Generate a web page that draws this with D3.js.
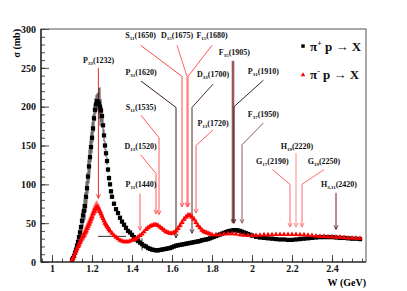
<!DOCTYPE html>
<html>
<head>
<meta charset="utf-8">
<script src="https://cdn.jsdelivr.net/npm/d3@7"></script>
<style>
  body { margin: 0; background: #fff; }
  svg text { font-family: "Liberation Serif", "DejaVu Serif", serif; font-weight: bold; }
</style>
</head>
<body>
<div id="chart"></div>
<script>
// pi+ p total cross section: [W (GeV), sigma (mb), error]
var piPlus = [
  [1.100, 3, 2], [1.105, 5, 2], [1.110, 8, 3], [1.115, 12, 4], [1.120, 16, 5], [1.125, 21, 6],
  [1.130, 26, 8], [1.135, 32, 10], [1.140, 38, 10], [1.145, 45, 12], [1.150, 53, 14], [1.155, 60, 15],
  [1.160, 66, 15], [1.165, 72, 18], [1.170, 84, 20], [1.175, 95, 20], [1.180, 110, 22], [1.185, 123, 22],
  [1.190, 135, 22], [1.195, 148, 20], [1.200, 160, 20], [1.205, 172, 18], [1.210, 185, 18], [1.215, 196, 15],
  [1.220, 203, 12], [1.225, 207, 10], [1.230, 206, 12], [1.235, 204, 20], [1.240, 200, 25], [1.245, 195, 15],
  [1.250, 188, 12], [1.255, 176, 10], [1.260, 163, 8], [1.265, 150, 6], [1.270, 140, 5], [1.275, 130, 5],
  [1.280, 119, 4], [1.285, 108, 4], [1.290, 100, 3], [1.295, 91, 3], [1.300, 84, 3], [1.310, 75, 3],
  [1.320, 68, 2], [1.330, 63, 2], [1.340, 57, 2], [1.350, 52, 2], [1.360, 48, 2], [1.370, 44, 2],
  [1.380, 40, 2], [1.390, 38, 2], [1.400, 35, 2], [1.410, 32, 2], [1.420, 29, 2], [1.430, 27, 2],
  [1.440, 25, 3], [1.450, 23, 8], [1.460, 21, 2], [1.470, 20, 2], [1.480, 18, 2], [1.490, 17, 2],
  [1.500, 16, 2], [1.510, 15.5, 2], [1.520, 15, 2], [1.530, 15, 2], [1.540, 15.5, 2], [1.550, 16, 2],
  [1.560, 16.5, 2], [1.570, 17, 2], [1.580, 17.5, 2], [1.590, 18, 2], [1.600, 19, 2], [1.610, 20, 2],
  [1.620, 21, 2], [1.630, 21.5, 2], [1.640, 22, 2], [1.650, 22.5, 2], [1.660, 23, 2], [1.670, 23.5, 2],
  [1.680, 24, 2], [1.690, 24.5, 2], [1.700, 25, 2], [1.710, 25.5, 2], [1.720, 26, 2], [1.730, 26.5, 2],
  [1.740, 27, 2], [1.750, 28, 2], [1.760, 28.5, 2], [1.770, 29, 2], [1.780, 29.5, 2], [1.790, 30.5, 2],
  [1.800, 31.5, 2], [1.810, 32.5, 2], [1.820, 33.5, 2], [1.830, 34.5, 2], [1.840, 35.5, 2], [1.850, 36.5, 2],
  [1.860, 37.5, 2], [1.870, 38.5, 2], [1.880, 39.5, 2], [1.890, 40, 2], [1.900, 40.5, 2], [1.910, 41, 2],
  [1.920, 41, 2], [1.930, 40.5, 2], [1.940, 40, 2], [1.950, 39, 2], [1.960, 38, 2], [1.970, 37, 2],
  [1.980, 36, 2], [1.990, 35, 2], [2.000, 34, 2], [2.020, 32.5, 2], [2.040, 31.5, 2], [2.060, 31, 2],
  [2.080, 30.5, 2], [2.100, 30, 2], [2.120, 29.5, 2], [2.140, 29, 2], [2.160, 29, 2], [2.180, 28.5, 2],
  [2.200, 28.5, 2], [2.220, 29, 2], [2.240, 29.5, 2], [2.260, 30, 2], [2.280, 30.5, 2], [2.300, 31, 2],
  [2.320, 31.5, 2], [2.340, 32, 2], [2.360, 32, 2], [2.380, 32, 2], [2.400, 32, 2], [2.420, 31.5, 2],
  [2.440, 31, 2], [2.460, 31, 2], [2.480, 30.5, 2], [2.500, 30, 2], [2.520, 30, 2], [2.540, 29.5, 2]
];

// pi- p total cross section: [W (GeV), sigma (mb), error]
var piMinus = [
  [1.100, 3, 1], [1.105, 5, 2], [1.110, 8, 3], [1.115, 11, 3], [1.120, 14, 4], [1.125, 17, 4],
  [1.130, 20, 5], [1.135, 22, 5], [1.140, 25, 6], [1.145, 28, 6], [1.150, 31, 6], [1.155, 33, 6],
  [1.160, 35, 7], [1.165, 38, 7], [1.170, 40, 8], [1.175, 43, 8], [1.180, 46, 8], [1.185, 49, 8],
  [1.190, 52, 8], [1.195, 55, 8], [1.200, 58, 8], [1.205, 62, 8], [1.210, 65, 8], [1.215, 68, 8],
  [1.220, 70, 8], [1.225, 71, 8], [1.230, 70, 6], [1.235, 68, 6], [1.240, 65, 6], [1.245, 62, 5],
  [1.250, 59, 5], [1.255, 56, 5], [1.260, 53, 4], [1.265, 50, 4], [1.270, 48, 4], [1.275, 46, 4],
  [1.280, 44, 3], [1.285, 42, 3], [1.290, 40, 3], [1.300, 37, 3], [1.310, 34, 2], [1.320, 32, 2],
  [1.330, 30, 2], [1.340, 28, 2], [1.350, 27, 2], [1.360, 26, 2], [1.370, 26, 2], [1.380, 26, 2],
  [1.390, 27, 2], [1.400, 28, 2], [1.410, 29, 2], [1.420, 30, 2], [1.430, 32, 2], [1.440, 34, 2],
  [1.450, 36, 2], [1.460, 39, 2], [1.470, 42, 2], [1.480, 44, 3], [1.490, 46, 3], [1.500, 47, 3],
  [1.510, 48, 3], [1.520, 48, 3], [1.530, 47, 3], [1.540, 45, 3], [1.550, 43, 3], [1.560, 41, 3],
  [1.570, 39, 3], [1.580, 38, 3], [1.590, 37, 3], [1.600, 37, 3], [1.610, 38, 3], [1.620, 40, 4],
  [1.630, 43, 4], [1.640, 47, 4], [1.650, 51, 4], [1.660, 55, 4], [1.670, 58, 4], [1.680, 60, 4],
  [1.690, 60, 4], [1.700, 58, 4], [1.710, 55, 4], [1.720, 51, 4], [1.730, 47, 3], [1.740, 44, 3],
  [1.750, 41, 3], [1.760, 39, 3], [1.770, 38, 3], [1.780, 37, 3], [1.790, 36, 2], [1.800, 35, 2],
  [1.820, 35, 2], [1.840, 35, 2], [1.860, 36, 2], [1.880, 36.5, 2], [1.900, 36.5, 2], [1.920, 36, 2],
  [1.940, 35, 2], [1.960, 34.5, 2], [1.980, 34, 2], [2.000, 34, 2], [2.020, 34, 2], [2.040, 34.5, 2],
  [2.060, 35, 2], [2.080, 35, 2], [2.100, 35, 2], [2.120, 35.5, 2], [2.140, 35.5, 2], [2.160, 35.5, 2],
  [2.180, 35.5, 2], [2.200, 35.5, 2], [2.220, 35.5, 2], [2.240, 35, 2], [2.260, 35, 2], [2.280, 34.5, 2],
  [2.300, 34, 2], [2.320, 33.5, 2], [2.340, 33, 2], [2.360, 33, 2], [2.380, 32.5, 2], [2.400, 32.5, 2],
  [2.420, 32, 2], [2.440, 32, 2], [2.460, 31.5, 2], [2.480, 31, 2], [2.500, 31, 2], [2.520, 30.5, 2],
  [2.540, 30.5, 2]
];

// one wide-bin point with a horizontal error: [W, sigma, xerr]
var wideBins = [[1.30, 33, 0.07]];

var xTicks = [1, 1.2, 1.4, 1.6, 1.8, 2, 2.2, 2.4];
var yTicks = [0, 50, 100, 150, 200, 250, 300];

// resonances: [letter, subscript, mass label, mass (GeV)]
var resonances = [
  ["P", "33", "1232", 1.232], ["P", "11", "1440", 1.440], ["D", "13", "1520", 1.520],
  ["S", "11", "1535", 1.535], ["P", "31", "1620", 1.620], ["S", "11", "1650", 1.650],
  ["D", "15", "1675", 1.675], ["F", "15", "1680", 1.680], ["D", "33", "1700", 1.700],
  ["P", "13", "1720", 1.720], ["F", "35", "1905", 1.905], ["P", "31", "1910", 1.910],
  ["F", "37", "1950", 1.950], ["G", "17", "2190", 2.190], ["H", "19", "2220", 2.220],
  ["G", "19", "2250", 2.250], ["H", "3,11", "2420", 2.420]
];

// annotation layout in data units: label centre W, label baseline sigma, line start sigma, knee sigma, tip sigma
var labelLayout = {
  "1232": [1.233, 256, 250, null, 82],
  "1440": [1.445, 96, 88, null, 41],
  "1520": [1.443, 145, 138, 114, 62],
  "1535": [1.445, 196, 189, 160, 61],
  "1620": [1.445, 241, 233, 199, 31],
  "1650": [1.443, 288, 279, 239, 71],
  "1675": [1.625, 288, 279, 239, 71],
  "1680": [1.800, 288, 279, 239, 71],
  "1700": [1.805, 238, 229, 199, 37],
  "1720": [1.805, 175, 170, 150, 63],
  "1905": [1.912, 266, 259, null, 50],
  "1910": [2.057, 242, 234, 200, 50],
  "1950": [2.057, 187, 179, 151, 50],
  "2190": [2.102, 126, 119, 100, 45],
  "2220": [2.225, 146, 140, null, 45],
  "2250": [2.360, 126, 119, 100, 45],
  "2420": [2.435, 97, 89, null, 42]
};
var lineColors = {
  "1232": "#e8302c", "1440": "#ff5a5a", "1520": "#ff5a5a", "1535": "#ff5a5a",
  "1620": "#3a2020", "1650": "#ff4a4a", "1675": "#ff6a6a", "1680": "#ff5050",
  "1700": "#4a2a2a", "1720": "#ff5a5a", "1905": "#9c5858", "1910": "#3a2424",
  "1950": "#8a5a5a", "2190": "#ff6a6a", "2220": "#ff8a8a", "2250": "#ff6a6a",
  "2420": "#6a2020"
};

var width = 407, height = 291;
var margin = {left: 41, top: 29, right: 41, bottom: 29};

var x = d3.scaleLinear().domain([0.945, 2.57]).range([margin.left, width - margin.right]);
var y = d3.scaleLinear().domain([0, 300]).range([height - margin.bottom, margin.top]);

var svg = d3.select("#chart").append("svg")
    .attr("width", width)
    .attr("height", height);

// clip for data
svg.append("clipPath").attr("id", "clip")
  .append("rect")
    .attr("x", margin.left).attr("y", margin.top)
    .attr("width", width - margin.left - margin.right)
    .attr("height", height - margin.top - margin.bottom);

// axes: ROOT style ticks pointing inside
var xAxis = d3.axisBottom(x).tickValues(xTicks).tickSize(-7).tickPadding(3)
    .tickFormat(function(d) { return d3.format("")(d); });
var xMinor = d3.axisBottom(x).tickValues(d3.range(0.95, 2.56, 0.05)).tickSize(-3.5).tickFormat("");
var yAxis = d3.axisLeft(y).tickValues(yTicks).tickSize(-8).tickPadding(5);
var yMinor = d3.axisLeft(y).tickValues(d3.range(0, 301, 10)).tickSize(-4).tickFormat("");

svg.append("g").attr("transform", "translate(0," + y(0) + ")").call(xMinor);
svg.append("g").attr("class", "xaxis").attr("transform", "translate(0," + y(0) + ")").call(xAxis);
svg.append("g").attr("transform", "translate(" + x.range()[0] + ",0)").call(yMinor);
svg.append("g").attr("class", "yaxis").attr("transform", "translate(" + x.range()[0] + ",0)").call(yAxis);

svg.selectAll(".domain").remove();
svg.selectAll(".tick line").attr("stroke", "#222").attr("stroke-width", 0.8);
svg.selectAll(".xaxis text, .yaxis text")
    .style("font-size", "10px").attr("fill", "#111");

// frame
svg.append("rect")
    .attr("x", x.range()[0]).attr("y", y.range()[1])
    .attr("width", x.range()[1] - x.range()[0])
    .attr("height", y.range()[0] - y.range()[1])
    .attr("fill", "none").attr("stroke", "#555").attr("stroke-width", 1);
svg.append("line")
    .attr("x1", x.range()[0]).attr("x2", x.range()[1])
    .attr("y1", y(0)).attr("y2", y(0))
    .attr("stroke", "#111").attr("stroke-width", 1.2);
svg.append("line")
    .attr("x1", x.range()[0]).attr("x2", x.range()[0])
    .attr("y1", y(0)).attr("y2", y(300))
    .attr("stroke", "#111").attr("stroke-width", 1.2);

// axis titles
svg.append("text")
    .attr("transform", "translate(20," + y(300) + ") rotate(-90)")
    .attr("text-anchor", "end")
    .style("font-size", "10px")
    .text("σ (mb)");
svg.append("text")
    .attr("x", x.range()[1]).attr("y", 286)
    .attr("text-anchor", "end")
    .style("font-size", "10px")
    .text("W (GeV)");

// annotation lines
var ann = svg.append("g");
resonances.forEach(function(r) {
  var lay = labelLayout[r[2]];
  var col = lineColors[r[2]];
  var mx = x(r[3]);
  var pts = [[x(lay[0]), y(lay[2])]];
  if (lay[3] !== null) pts.push([mx, y(lay[3])]);
  else pts[0][0] = mx;
  pts.push([mx, y(lay[4])]);
  ann.append("path")
      .attr("d", d3.line()(pts))
      .attr("fill", "none")
      .attr("stroke", col)
      .attr("stroke-width", r[2] == "1905" ? 2.6 : 1);
  var tipY = y(lay[4]);
  ann.append("path")
      .attr("d", d3.line()([[mx - 2, tipY - 4], [mx, tipY], [mx + 2, tipY - 4]]))
      .attr("fill", "none")
      .attr("stroke", col)
      .attr("stroke-width", 0.9);
});

// data: error bars then markers
var data = svg.append("g").attr("clip-path", "url(#clip)");

function drawSeries(rows, color, shape) {
  data.append("g").selectAll("line").data(rows).join("line")
      .attr("x1", function(d) { return x(d[0]); })
      .attr("x2", function(d) { return x(d[0]); })
      .attr("y1", function(d) { return y(d[1] - d[2]); })
      .attr("y2", function(d) { return y(d[1] + d[2]); })
      .attr("stroke", color).attr("stroke-width", 0.7);
  var sym = d3.symbol().type(shape).size(shape === d3.symbolSquare ? 18 : 12);
  data.append("g").selectAll("path").data(rows).join("path")
      .attr("d", sym)
      .attr("transform", function(d) { return "translate(" + x(d[0]) + "," + y(d[1]) + ")"; })
      .attr("fill", color);
}

drawSeries(piPlus, "#000", d3.symbolSquare);

data.append("g").selectAll("line").data(wideBins).join("line")
    .attr("x1", function(d) { return x(d[0] - d[2]); })
    .attr("x2", function(d) { return x(d[0] + d[2]); })
    .attr("y1", function(d) { return y(d[1]); })
    .attr("y2", function(d) { return y(d[1]); })
    .attr("stroke", "#000").attr("stroke-width", 0.8);

drawSeries(piMinus, "#f00", d3.symbolTriangle);

// resonance labels
var labels = svg.append("g");
resonances.forEach(function(r) {
  var lay = labelLayout[r[2]];
  var t = labels.append("text")
      .attr("x", x(lay[0]))
      .attr("y", y(lay[1]))
      .attr("text-anchor", "middle")
      .style("font-size", "8px")
      .attr("fill", "#111");
  t.append("tspan").text(r[0]);
  t.append("tspan").attr("dy", 2).style("font-size", "5px").text(r[1]);
  t.append("tspan").attr("dy", -2).text("(" + r[2] + ")");
});

// legend
var legend = [
  {sup: "+", color: "#000", shape: d3.symbolSquare, s: 278},
  {sup: "-", color: "#f00", shape: d3.symbolTriangle, s: 241}
];
legend.forEach(function(l) {
  var ly = y(l.s);
  svg.append("path")
      .attr("d", d3.symbol().type(l.shape).size(l.shape === d3.symbolSquare ? 12 : 9)())
      .attr("transform", "translate(303," + ly + ")")
      .attr("fill", l.color);
  var t = svg.append("text")
      .attr("x", 310).attr("y", ly + 4.5)
      .style("font-size", "13px").attr("fill", "#111");
  t.append("tspan").text("π");
  t.append("tspan").attr("dy", -5).style("font-size", "8px").text(l.sup);
  t.append("tspan").attr("dy", 5).text(" p → X");
});
</script>
</body>
</html>
